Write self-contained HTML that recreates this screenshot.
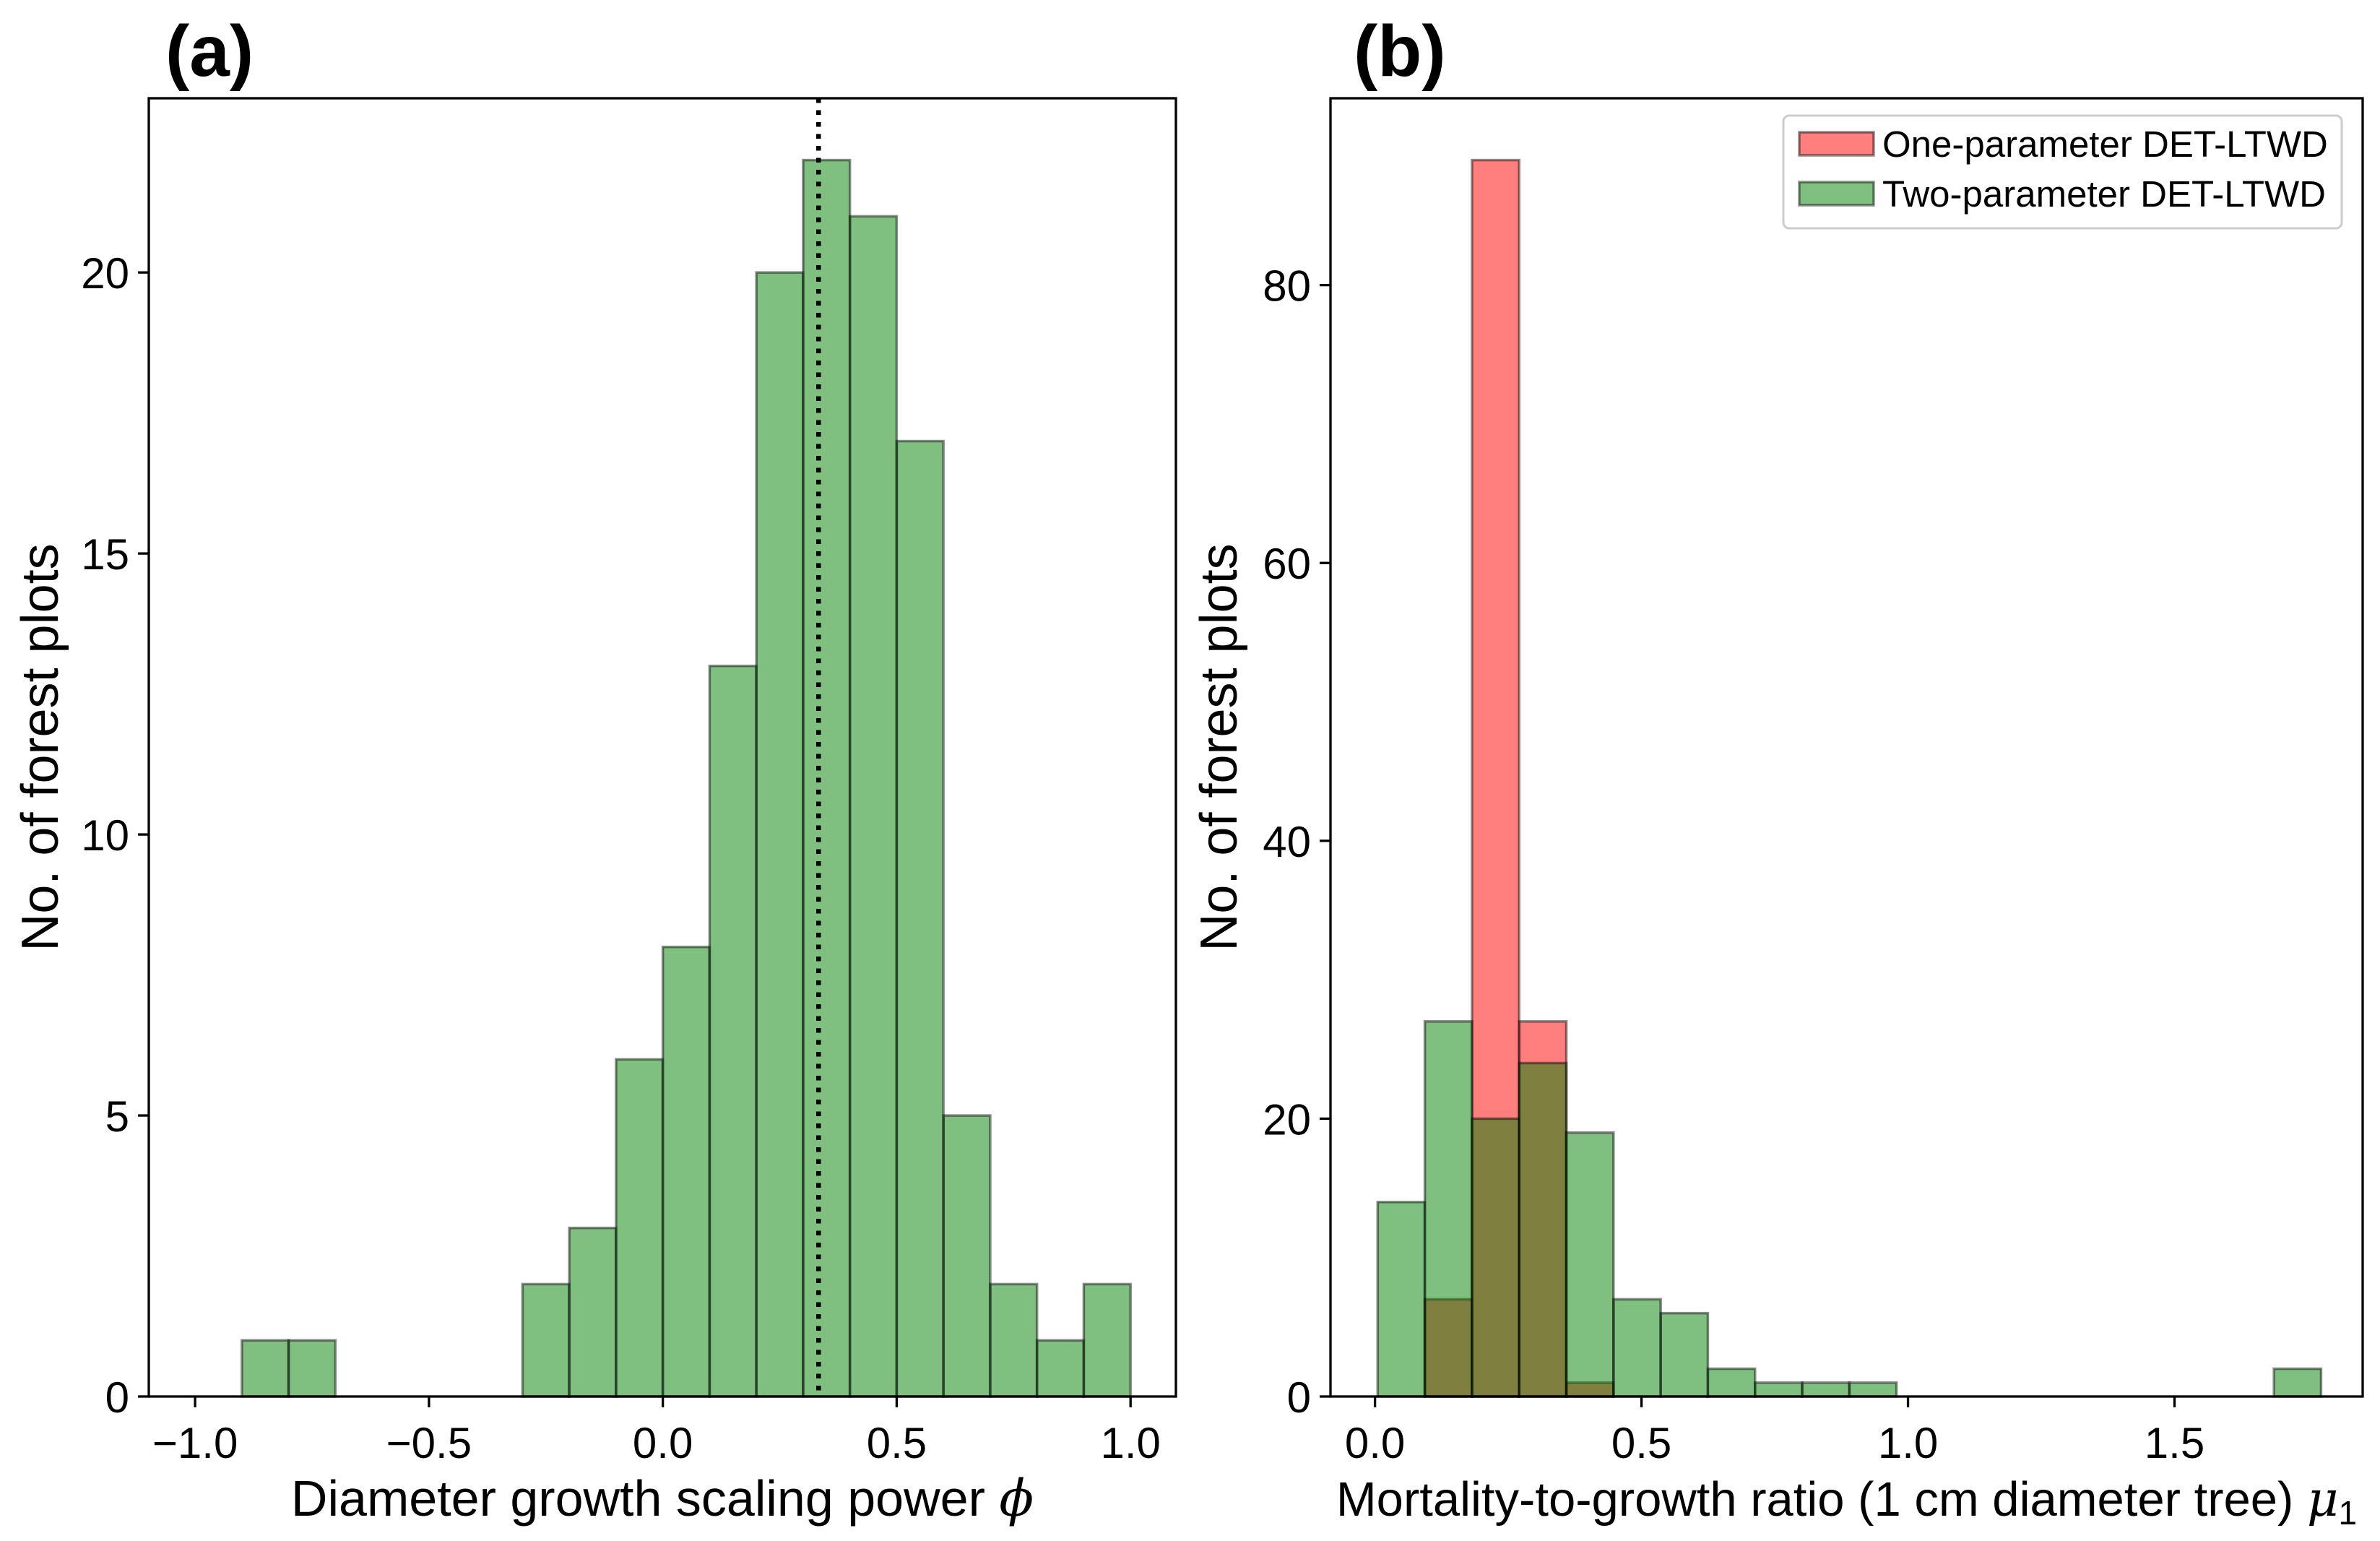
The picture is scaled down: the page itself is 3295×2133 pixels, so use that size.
<!DOCTYPE html>
<html><head><meta charset="utf-8"><style>
html,body{margin:0;padding:0;background:#fff;}
svg{display:block;font-family:"Liberation Sans",sans-serif;}
</style></head><body>
<svg id="fig" width="3295" height="2133" viewBox="0 0 3295 2133" xmlns="http://www.w3.org/2000/svg">
<rect width="3295" height="2133" fill="#fff"/>
<g id="pa"></g>
<g id="pb"></g>
</svg>
<script>
// Panel (a) data
const aBinStart = -0.9;
const aBinWidth = 0.1;
const aCounts = [1,1,0,0,0,0,2,3,6,8,13,20,22,21,17,5,2,1,2];
const aLine = 0.333;
const aXTicks = [-1.0,-0.5,0.0,0.5,1.0];
const aXTickLabels = ["\u22121.0","\u22120.5","0.0","0.5","1.0"];
const aYTicks = [0,5,10,15,20];
// Panel (b) data
const bBinStart = 0.005;
const bBinWidth = 0.0885;
const bGreen = [14,27,20,24,19,7,6,2,1,1,1,0,0,0,0,0,0,0,0,2];
const bRed = [0,7,89,27,1];
const bXTicks = [0.0,0.5,1.0,1.5];
const bXTickLabels = ["0.0","0.5","1.0","1.5"];
const bYTicks = [0,20,40,60,80];

const NS="http://www.w3.org/2000/svg";
function mk(tag,attrs,parent,text){const e=document.createElementNS(NS,tag);for(const k in attrs)e.setAttribute(k,attrs[k]);if(text!==undefined)e.textContent=text;parent.appendChild(e);return e;}

function axes(g,L,R,T,B,x0,x1,y0,y1){
  const sx=v=>L+(v-x0)/(x1-x0)*(R-L);
  const sy=v=>B-(v-y0)/(y1-y0)*(B-T);
  return {sx,sy};
}
function frame(g,L,R,T,B){
  const f=mk('rect',{x:L,y:T,width:R-L,height:B-T,fill:'none',stroke:'#000','stroke-width':3.3},g);
  
  
}
function ticks(g,s,L,B,xt,xl,yt){
  xt.forEach((v,i)=>{
    const x=s.sx(v);
    const t=mk('line',{x1:x,x2:x,y1:B,y2:B+15,stroke:'#000','stroke-width':3.3},g);
    
    
    const l=mk('text',{x:x,y:B+85,'font-size':60,'text-anchor':'middle'},g,xl[i]);
    
    
  });
  yt.forEach(v=>{
    const y=s.sy(v);
    const t=mk('line',{x1:L-15,x2:L,y1:y,y2:y,stroke:'#000','stroke-width':3.3},g);
    
    
    const l=mk('text',{x:L-27,y:y+22,'font-size':60,'text-anchor':'end'},g,String(v));
    
    
  });
}
function bars(g,s,start,w,counts,fill,name){
  counts.forEach((c,i)=>{
    if(c<=0)return;
    const xa=s.sx(start+i*w),xb=s.sx(start+(i+1)*w),y=s.sy(c),y0=s.sy(0);
    const r=mk('rect',{x:xa,y:y,width:xb-xa,height:y0-y,fill:fill,'fill-opacity':0.5,stroke:'#000','stroke-opacity':0.45,'stroke-width':3.5},g);
    
    
  });
}

// Panel a
(function(){
  const g=document.getElementById('pa');
  const L=206,R=1628,T=136,B=1933;
  const s=axes(g,L,R,T,B,-1.099,1.097,0,23.1);
  bars(g,s,aBinStart,aBinWidth,aCounts,'#008000','bar-phi');
  const x=s.sx(aLine);
  const dl=mk('line',{x1:x,x2:x,y1:T,y2:B,stroke:'#000','stroke-width':6.5,'stroke-dasharray':'6.5 10'},g);
  
  
  frame(g,L,R,T,B);
  ticks(g,s,L,B,aXTicks,aXTickLabels,aYTicks);
  const xl=mk('text',{x:(L+R)/2,y:2098,'font-size':70,'text-anchor':'middle'},g);
  xl.innerHTML='Diameter growth scaling power <tspan font-style="italic" font-family="DejaVu Serif, serif">ϕ</tspan>';
  
  
  const yl=mk('text',{x:0,y:0,'font-size':72,'text-anchor':'middle',transform:`translate(80,${(T+B)/2}) rotate(-90)`},g,'No. of forest plots');
  
  
  const pl=mk('text',{x:229,y:105,'font-size':100,'font-weight':'bold'},g,'(a)');
  
  
})();

// Panel b
(function(){
  const g=document.getElementById('pb');
  const L=1842,R=3271,T=136,B=1933;
  const s=axes(g,L,R,T,B,-0.0835,1.853,0,93.45);
  bars(g,s,bBinStart,bBinWidth,bRed,'#ff0000','bar-one-parameter');
  bars(g,s,bBinStart,bBinWidth,bGreen,'#008000','bar-two-parameter');
  frame(g,L,R,T,B);
  ticks(g,s,L,B,bXTicks,bXTickLabels,bYTicks);
  const xl=mk('text',{x:(L+R)/2,y:2098,'font-size':67,'text-anchor':'middle'},g);
  xl.innerHTML='Mortality-to-growth ratio (1 cm diameter tree) <tspan font-style="italic" font-family="DejaVu Serif, serif">μ</tspan><tspan font-size="46" dy="12">1</tspan>';
  
  
  const yl=mk('text',{x:0,y:0,'font-size':72,'text-anchor':'middle',transform:`translate(1712,${(T+B)/2}) rotate(-90)`},g,'No. of forest plots');
  
  
  const pl=mk('text',{x:1874,y:105,'font-size':100,'font-weight':'bold'},g,'(b)');
  
  
  // legend
  const lg=mk('g',{},g);
  
  
  mk('rect',{x:2469,y:160,width:773,height:156,rx:8,fill:'#fff','fill-opacity':0.8,stroke:'#ccc','stroke-width':3},lg);
  const items=[['#ff0000','One-parameter DET-LTWD',199],['#008000','Two-parameter DET-LTWD',268]];
  items.forEach(it=>{
    const p=mk('rect',{x:2491,y:it[2]-16,width:103,height:32,fill:it[0],'fill-opacity':0.5,stroke:'#000','stroke-opacity':0.45,'stroke-width':3.5},lg);
    
    
    const t=mk('text',{x:2606,y:it[2]+18,'font-size':51},lg,it[1]);
    
    
  });
})();
</script>
</body></html>
